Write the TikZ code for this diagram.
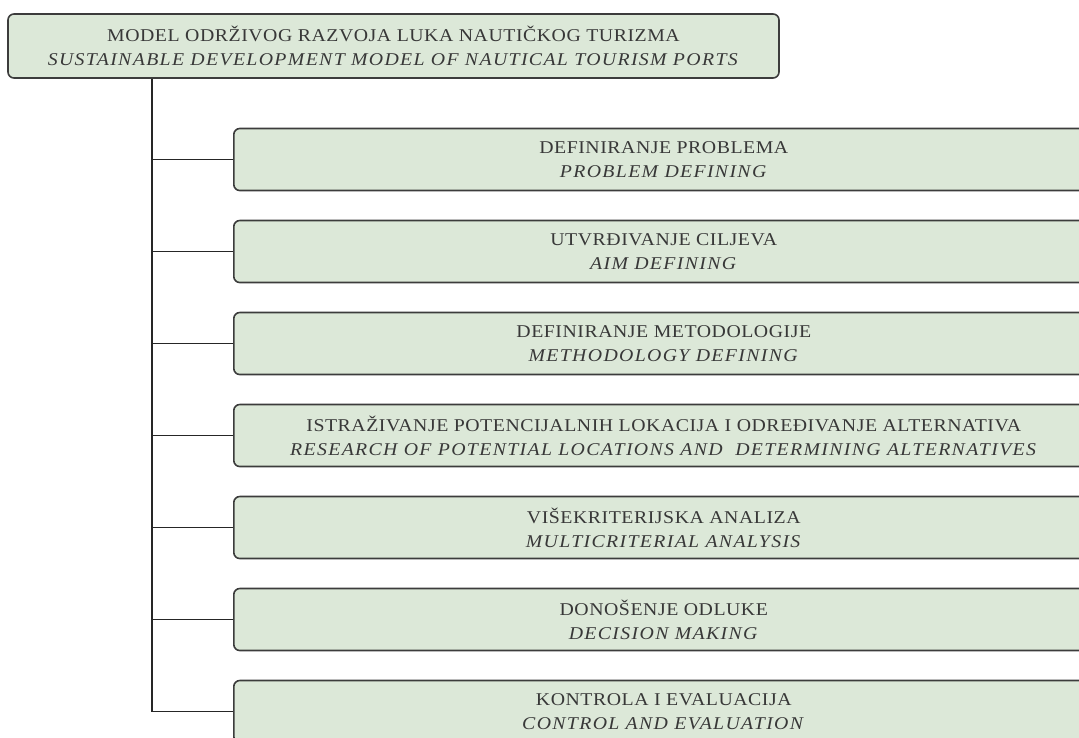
\documentclass[tikz,border=0pt]{standalone}
\usepackage{fontspec}
\setmainfont{Liberation Serif}[FakeStretch=1.1, LetterSpace=3, ItalicFeatures={LetterSpace=7.5}]
\usetikzlibrary{positioning}
\definecolor{boxgreen}{HTML}{DCE8D8}
\definecolor{edgegray}{HTML}{3C3C3C}

\tikzset{
  modelbox/.style={draw=edgegray, line width=1.6pt, fill=boxgreen, rounded corners=6pt,
    align=center, text=black!78, inner sep=0pt, font=\fontsize{18}{24}\selectfont},
  stagebox/.style={modelbox, minimum width=860pt, minimum height=62pt, anchor=west},
  link/.style={line width=1.6pt, draw=black!85}
}

\begin{document}
\begin{tikzpicture}[x=1pt, y=-1pt]
\useasboundingbox (0,0) rectangle (1079,737);

% Main box on top
\node[modelbox, minimum width=771pt, minimum height=64pt] (model) at (393.5,46)
  {MODEL ODRŽIVOG RAZVOJA LUKA NAUTIČKOG TURIZMA\\
   \textit{SUSTAINABLE DEVELOPMENT MODEL OF NAUTICAL TOURISM PORTS}};

% Stages, one under the other
\foreach \i/\y/\hr/\en in {
  1/159.5/DEFINIRANJE PROBLEMA/PROBLEM DEFINING,
  2/251.5/UTVRĐIVANJE CILJEVA/AIM DEFINING,
  3/343.5/DEFINIRANJE METODOLOGIJE/METHODOLOGY DEFINING,
  4/435.5/ISTRAŽIVANJE POTENCIJALNIH LOKACIJA I ODREĐIVANJE ALTERNATIVA/RESEARCH OF POTENTIAL LOCATIONS AND\ \ DETERMINING ALTERNATIVES,
  5/527.5/VIŠEKRITERIJSKA ANALIZA/MULTICRITERIAL ANALYSIS,
  6/619.5/DONOŠENJE ODLUKE/DECISION MAKING,
  7/711.5/KONTROLA I EVALUACIJA/CONTROL AND EVALUATION} {
    \node[stagebox] (s\i) at (233,\y) {\hr\\ \textit{\en}};
}

% Trunk and branches
\coordinate (trunk) at (152,0);
\draw[link] (trunk |- model.south) -- (trunk |- s7.west) -- (s7.west);
\foreach \i in {1,...,6} {
    \draw[link] (trunk |- s\i.west) -- (s\i.west);
}

\end{tikzpicture}
\end{document}
